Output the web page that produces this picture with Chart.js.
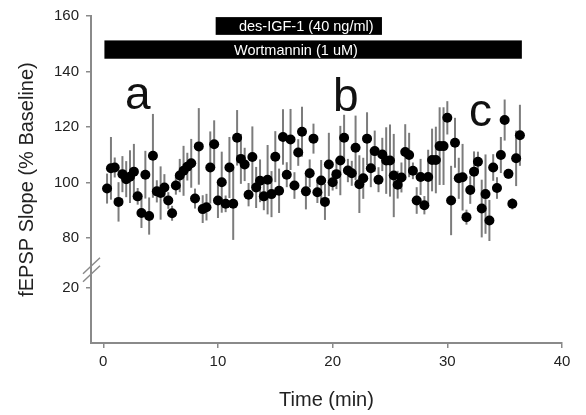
<!DOCTYPE html>
<html>
<head>
<meta charset="utf-8">
<script src="https://cdn.jsdelivr.net/npm/chart.js@4"></script>
<style>
  body { margin: 0; background: #fff; }
</style>
</head>
<body>
<canvas id="chart" width="586" height="415"></canvas>
<script>
// sample times (min), one every 20 s
const times = [
  0.33, 0.67, 1, 1.33, 1.67, 2, 2.33, 2.67, 3, 3.33, 3.67, 4, 4.33, 4.67, 5, 5.33, 5.67, 6,
  6.33, 6.67, 7, 7.33, 7.67, 8, 8.33, 8.67, 9, 9.33, 9.67, 10, 10.33, 10.67, 11, 11.33, 11.67, 12,
  12.33, 12.67, 13, 13.33, 13.67, 14, 14.33, 14.67, 15, 15.33, 15.67, 16, 16.33, 16.67, 17, 17.33, 17.67, 18,
  18.33, 18.67, 19, 19.33, 19.67, 20, 20.33, 20.67, 21, 21.33, 21.67, 22, 22.33, 22.67, 23, 23.33, 23.67, 24,
  24.33, 24.67, 25, 25.33, 25.67, 26, 26.33, 26.67, 27, 27.33, 27.67, 28, 28.33, 28.67, 29, 29.33, 29.67, 30,
  30.33, 30.67, 31, 31.33, 31.67, 32, 32.33, 32.67, 33, 33.33, 33.67, 34, 34.33, 34.67, 35, 35.33, 35.67, 36,
  36.33
];

// fEPSP slope, % of baseline
const slope = [
  97.8, 105.1, 105.4, 93.0, 103.0, 101.2, 102.1, 103.9, 95.0, 89.0, 102.8, 87.9, 109.6, 96.8, 96.2, 98.2, 93.5, 88.9,
  98.9, 102.5, 104.2, 105.7, 106.9, 94.2, 113.0, 90.4, 91.1, 105.4, 113.8, 93.5, 100.1, 92.3, 105.4, 92.3, 116.1, 108.5,
  106.5, 95.6, 109.2, 98.2, 100.6, 95.0, 101.0, 95.8, 109.3, 97.0, 116.4, 102.8, 115.5, 98.9, 110.8, 118.3, 96.8, 103.3,
  115.8, 96.5, 100.7, 93.0, 106.5, 100.1, 103.0, 107.9, 116.1, 104.3, 103.3, 112.5, 99.4, 101.5, 115.8, 105.1, 111.3, 101.0,
  110.1, 107.9, 107.9, 102.5, 99.2, 101.8, 111.0, 109.9, 104.2, 93.5, 102.0, 91.8, 102.0, 108.1, 108.1, 113.1, 113.1, 123.3,
  93.5, 114.3, 101.5, 101.9, 87.5, 97.3, 103.9, 107.5, 90.6, 95.8, 86.3, 105.4, 98.0, 109.9, 122.5, 103.1, 92.3, 108.7,
  117.0
];

// error (SEM), % of baseline
const sem = [
  5.4, 11.3, 3.6, 7.1, 6.5, 6.5, 9.5, 10, 3, 5.4, 8.6, 6.7, 15.1, 4, 9.6, 4.8, 3, 2.7,
  3.3, 6, 9, 5, 8.8, 3.6, 13.8, 5, 4.8, 13, 8.6, 6.3, 11, 3, 11, 13, 10, 9,
  6, 4.2, 11, 7.4, 7.7, 5, 12.5, 8.3, 9.2, 8, 10, 4.5, 11, 4.8, 4.8, 9, 6.5, 5,
  5.4, 3.9, 7.4, 6.5, 11.4, 3, 5.4, 12.5, 8.3, 4.2, 4.5, 11.6, 10.4, 7.4, 9.5, 6.8, 7.4, 4.5,
  6, 12, 13, 15, 5, 5.4, 10, 8, 3, 4.8, 6.5, 3.3, 9.8, 11.3, 12, 14, 14, 6,
  12.5, 9, 7.4, 12, 2.7, 5, 7.3, 3.6, 10.4, 14.3, 7.4, 4.8, 3.9, 6.5, 7.4, 1.8, 2, 10,
  11
];

const xTicks = [0, 10, 20, 30, 40];
const yTicks = [80, 100, 120, 140, 160];
const yLowTicks = [20];

// drug application bars
const drugs = ['des-IGF-1 (40 ng/ml)', 'Wortmannin (1 uM)'];
const drugStart = [9.8, 0.1];
const drugEnd = [24.3, 36.5];
const drugTop = [159.6, 151.2];
const drugBottom = [153.2, 144.6];
const drugLabelX = [17.7, 16.8];

// epoch letters
const letters = ['a', 'b', 'c'];
const letterX = [3.0, 21.15, 32.9];
const letterY = [126.4, 125.7, 120.4];

const FONT = '"Liberation Sans", Arial, sans-serif';
const axisGray = '#8a8a8a';

const errorBars = {
  id: 'errorBars',
  beforeDatasetsDraw(chart) {
    const { ctx, scales: { x, y } } = chart;
    ctx.save();
    ctx.strokeStyle = '#7c7c7c';
    ctx.lineWidth = 2;
    times.forEach((t, i) => {
      const px = x.getPixelForValue(t);
      ctx.beginPath();
      ctx.moveTo(px, y.getPixelForValue(slope[i] + sem[i]));
      ctx.lineTo(px, y.getPixelForValue(slope[i] - sem[i]));
      ctx.stroke();
    });
    ctx.restore();
  }
};

const extras = {
  id: 'extras',
  afterDraw(chart) {
    const { ctx, chartArea, scales: { x, y } } = chart;
    ctx.save();

    // drug bars
    drugs.forEach((name, i) => {
      const x0 = x.getPixelForValue(drugStart[i]);
      const x1 = x.getPixelForValue(drugEnd[i]);
      const y0 = y.getPixelForValue(drugTop[i]);
      const y1 = y.getPixelForValue(drugBottom[i]);
      ctx.fillStyle = '#000';
      ctx.fillRect(x0, y0, x1 - x0, y1 - y0);
      ctx.fillStyle = '#fff';
      ctx.font = '14.5px ' + FONT;
      ctx.textAlign = 'center';
      ctx.textBaseline = 'middle';
      ctx.fillText(name, x.getPixelForValue(drugLabelX[i]), (y0 + y1) / 2 + 1);
    });

    // letters
    ctx.fillStyle = '#111';
    ctx.font = '46px ' + FONT;
    ctx.textAlign = 'center';
    ctx.textBaseline = 'alphabetic';
    letters.forEach((l, i) => {
      ctx.fillText(l, x.getPixelForValue(letterX[i]), y.getPixelForValue(letterY[i]));
    });

    // axis break
    const bx = chartArea.left;
    const by = y.bottom;
    ctx.strokeStyle = axisGray;
    ctx.lineWidth = 1.5;
    [-4, 4].forEach(d => {
      ctx.beginPath();
      ctx.moveTo(bx - 8, by + d + 8);
      ctx.lineTo(bx + 9, by + d - 8);
      ctx.stroke();
    });

    // y title
    ctx.fillStyle = '#222';
    ctx.font = '20px ' + FONT;
    ctx.textAlign = 'center';
    ctx.textBaseline = 'middle';
    ctx.translate(27, (chartArea.top + chartArea.bottom) / 2);
    ctx.rotate(-Math.PI / 2);
    ctx.fillText('fEPSP Slope (% Baseline)', 0, 0);
    ctx.restore();
  }
};

const tickFont = { family: FONT, size: 15 };
const gridOpts = { drawOnChartArea: false, tickLength: 5, color: axisGray, lineWidth: 1.5 };
const borderOpts = { color: axisGray, width: 2 };

new Chart(document.getElementById('chart'), {
  type: 'scatter',
  data: {
    datasets: [{
      data: times.map((t, i) => ({ x: t, y: slope[i] })),
      yAxisID: 'y',
      pointRadius: 5,
      pointHoverRadius: 5,
      pointBackgroundColor: '#000',
      pointBorderColor: '#000',
      pointBorderWidth: 0
    }]
  },
  options: {
    responsive: false,
    animation: false,
    events: [],
    layout: { padding: { top: 13, right: 24, left: 0, bottom: 0 } },
    plugins: { legend: { display: false }, tooltip: { enabled: false } },
    scales: {
      x: {
        type: 'linear',
        min: -1.07,
        max: 40,
        afterBuildTicks: s => { s.ticks = xTicks.map(v => ({ value: v })); },
        afterFit: s => { s.height = 72; },
        grid: gridOpts,
        border: borderOpts,
        ticks: { font: tickFont, color: '#222', padding: 5 },
        title: {
          display: true,
          text: 'Time (min)',
          color: '#222',
          font: { family: FONT, size: 20 },
          padding: { top: 0, bottom: 3 }
        }
      },
      yLow: {
        type: 'linear',
        position: 'left',
        stack: 'slope',
        stackWeight: 74,
        min: 0,
        max: 26.43,
        afterBuildTicks: s => { s.ticks = yLowTicks.map(v => ({ value: v })); },
        afterFit: s => { s.width = 91; },
        grid: gridOpts,
        border: borderOpts,
        ticks: { font: tickFont, color: '#222', padding: 7 }
      },
      y: {
        type: 'linear',
        position: 'left',
        stack: 'slope',
        stackWeight: 256,
        min: 68.57,
        max: 160,
        afterBuildTicks: s => { s.ticks = yTicks.map(v => ({ value: v })); },
        afterFit: s => { s.width = 91; },
        grid: gridOpts,
        border: borderOpts,
        ticks: { font: tickFont, color: '#222', padding: 7 }
      }
    }
  },
  plugins: [errorBars, extras]
});
</script>
</body>
</html>
